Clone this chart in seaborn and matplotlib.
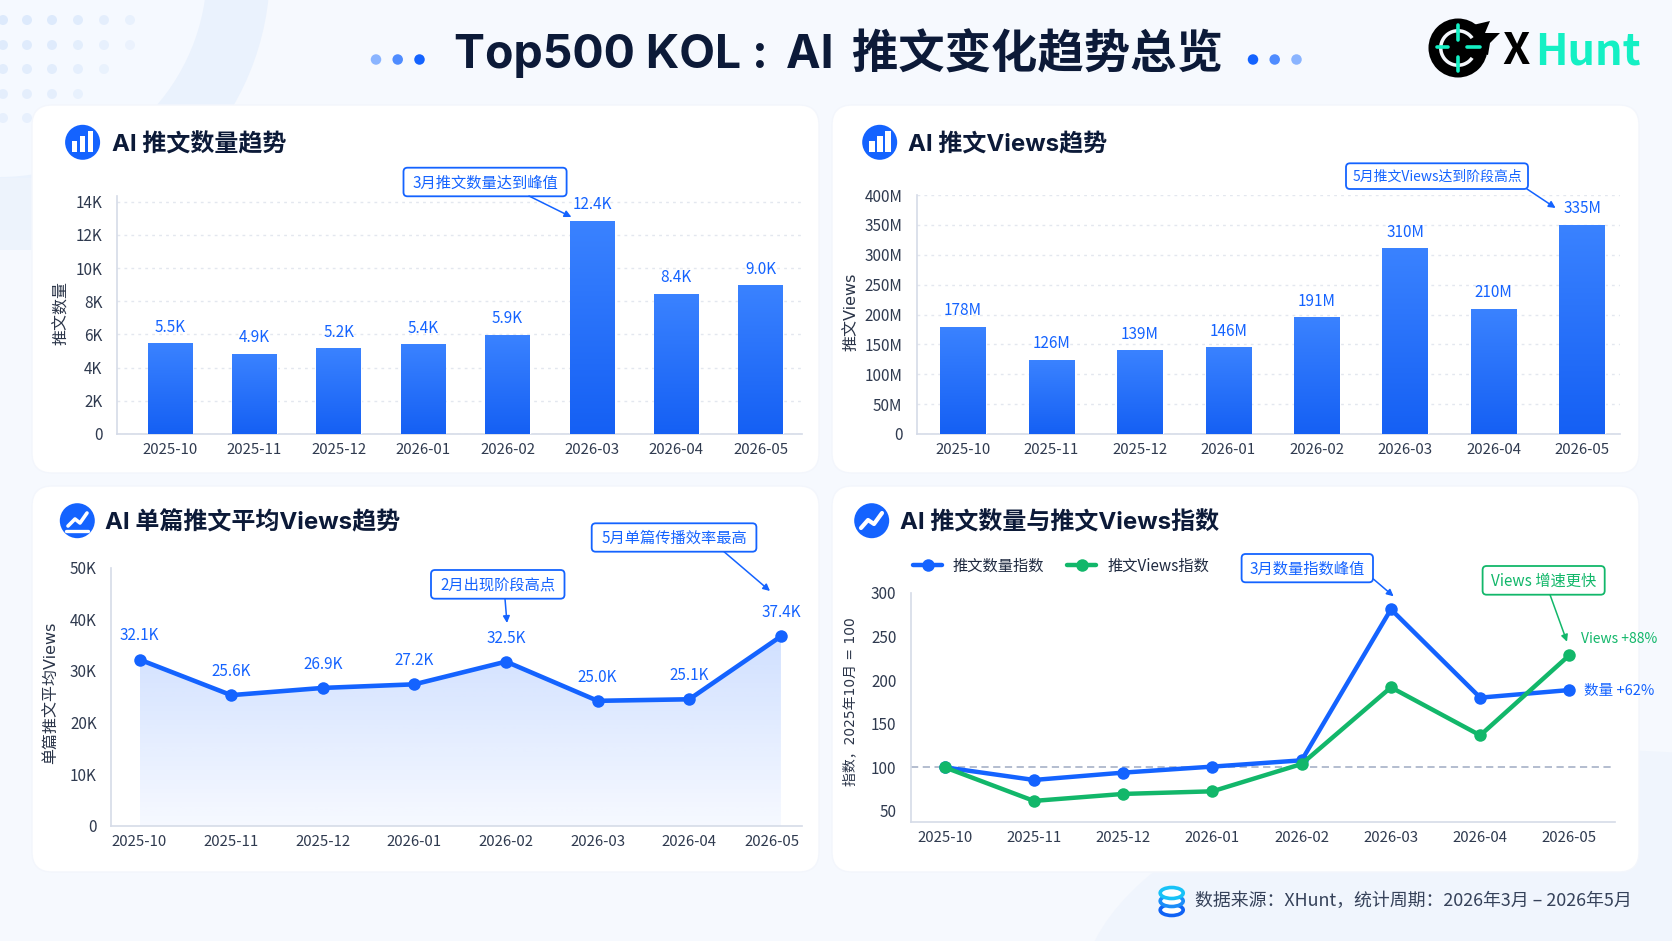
import numpy as np
import pandas as pd
import seaborn as sns
import matplotlib
matplotlib.use("Agg")
import matplotlib.pyplot as plt
from matplotlib.colors import LinearSegmentedColormap, to_rgb
from matplotlib.patches import Circle, Ellipse, FancyBboxPatch, Polygon, Rectangle, Wedge
from matplotlib.transforms import ScaledTranslation

months = ["2025-10", "2025-11", "2025-12", "2026-01", "2026-02", "2026-03", "2026-04", "2026-05"]

tweet_counts = [5440, 4820, 5140, 5380, 5960, 12800, 8400, 8920]
tweet_count_labels = ["5.5K", "4.9K", "5.2K", "5.4K", "5.9K", "12.4K", "8.4K", "9.0K"]
count_ticks = [0, 2000, 4000, 6000, 8000, 10000, 12000, 14000]
count_tick_labels = ["0", "2K", "4K", "6K", "8K", "10K", "12K", "14K"]

tweet_views = [178.8, 123.7, 139.3, 144.3, 194.4, 309.7, 208.9, 348.7]
tweet_view_labels = ["178M", "126M", "139M", "146M", "191M", "310M", "210M", "335M"]
view_ticks = [0, 50, 100, 150, 200, 250, 300, 350, 400]
view_tick_labels = ["0", "50M", "100M", "150M", "200M", "250M", "300M", "350M", "400M"]

avg_views = [32.2, 25.3, 26.7, 27.4, 31.8, 24.2, 24.5, 36.7]
avg_view_labels = ["32.1K", "25.6K", "26.9K", "27.2K", "32.5K", "25.0K", "25.1K", "37.4K"]
avg_ticks = [0, 10, 20, 30, 40, 50]
avg_tick_labels = ["0", "10K", "20K", "30K", "40K", "50K"]

count_index = [100, 85.5, 93.9, 100.8, 108, 281, 179.8, 188.5]
views_index = [100, 61.5, 69.5, 72.5, 103.8, 191.6, 136.6, 228.6]
index_ticks = [50, 100, 150, 200, 250, 300]

W, H = 1672, 941
BLUE = "#1463FF"
GREEN = "#12B76A"
DARK = "#0C1A38"
TICK_TEXT = "#2F3A4F"
AXIS = "#D5DBE8"
HEAD_FONT = ["Inter", "Noto Sans CJK SC", "DejaVu Sans"]
LABEL_FONT = ["DejaVu Sans", "Noto Sans CJK SC"]

sns.set_theme(style="white")
plt.rcParams["font.family"] = ["Noto Sans CJK SC", "DejaVu Sans"]
plt.rcParams["axes.unicode_minus"] = False

fig = plt.figure(figsize=(W / 100, H / 100), dpi=100, facecolor="#F6F9FE")


def pixel_axes(zorder):
    a = fig.add_axes([0, 0, 1, 1], zorder=zorder)
    a.set_xlim(0, W)
    a.set_ylim(H, 0)
    a.axis("off")
    return a


def chart_axes(left, right, top, bottom):
    a = fig.add_axes([left / W, 1 - bottom / H, (right - left) / W, (bottom - top) / H], zorder=2)
    a.patch.set_alpha(0)
    sns.despine(ax=a)
    a.spines["left"].set_color(AXIS)
    a.spines["bottom"].set_color(AXIS)
    a.spines["left"].set_linewidth(1.2)
    a.spines["bottom"].set_linewidth(1.2)
    a.tick_params(axis="x", length=3, width=1, color="#BFC7D6", pad=3.5, labelsize=10.8, labelcolor=TICK_TEXT)
    a.tick_params(axis="y", length=3.5, width=1, color="#9AA5B8", pad=7, labelsize=11, labelcolor=TICK_TEXT)
    return a


def set_ylabel_at(a, text, x_px, y_px, size=11.5):
    a.set_ylabel(text, fontsize=size, color="#2A3448", family=LABEL_FONT)
    a.yaxis.set_label_coords(x_px, y_px, transform=ov.transData)


def gradient_bars(a):
    cmap = LinearSegmentedColormap.from_list("bar", ["#1560F4", "#3A82FF"])
    xlim, ylim = a.get_xlim(), a.get_ylim()
    for p in a.patches:
        x0, w, h = p.get_x(), p.get_width(), p.get_height()
        a.imshow(np.linspace(1, 0, 64).reshape(-1, 1), extent=(x0, x0 + w, 0, h), aspect="auto",
                 cmap=cmap, zorder=3, interpolation="bilinear")
    a.set_xlim(xlim)
    a.set_ylim(ylim)


def value_labels(a, values, labels, offset, size=11):
    for i, (v, t) in enumerate(zip(values, labels)):
        a.annotate(t, (i, v), xytext=(0, offset), textcoords="offset points", ha="center", va="center",
                   fontsize=size, color=BLUE, zorder=6)


def callout(text, x0, x1, y0, y1, start, end, color=BLUE, size=11):
    ov.add_patch(FancyBboxPatch((x0 + 3, y0 + 3), x1 - x0 - 6, y1 - y0 - 6, boxstyle="round,pad=3,rounding_size=4",
                                fc="white", ec=color, lw=1.3))
    ov.text((x0 + x1) / 2, (y0 + y1) / 2 + 1, text, ha="center", va="center", fontsize=size, color=color)
    ov.annotate("", xy=end, xytext=start, arrowprops=dict(arrowstyle="-|>", color=color, lw=1.1, mutation_scale=10,
                                                          shrinkA=0, shrinkB=0))


def panel_title(text, cx, cy, tx):
    ov.add_patch(Circle((cx, cy), 17.5, fc=BLUE, ec="none"))
    ov.text(tx, cy + 2, text, ha="left", va="center", fontsize=17.3, fontweight="bold", color=DARK, family=HEAD_FONT)


def bar_icon(cx, cy):
    for dx, h in [(-8, 11), (0, 16), (8, 21)]:
        ov.add_patch(Rectangle((cx + dx - 2.8, cy + 10 - h), 5.6, h, fc="white", ec="none"))


bg = pixel_axes(0)
ov = pixel_axes(5)

# background shapes
bg.add_patch(Circle((0, -30), 270, fc="#EAF2FD", ec="none"))
bg.add_patch(Circle((0, -30), 207, fc="#F5F9FF", ec="none"))
bg.add_patch(Rectangle((0, 178), 60, 72, fc="#EDF3FC", ec="none"))
bg.add_patch(Ellipse((1600, 1000), 1040, 500, fc="#F0F5FD", ec="none"))
for row, (y, n) in enumerate(zip([20, 45, 69, 94, 118], [6, 6, 5, 4, 2])):
    for col, x in enumerate([3, 27, 52, 78, 104, 130][:n]):
        bg.add_patch(Circle((x, y), 5, fc="#D5E5FB", ec="none", alpha=0.75 - 0.12 * max(col - 2, 0) - 0.08 * row))

# cards
for x0, x1, y0, y1 in [(32, 819, 105, 473), (832, 1639, 105, 473), (32, 819, 486, 872), (832, 1639, 486, 872)]:
    bg.add_patch(FancyBboxPatch((x0 + 20, y0 + 20), x1 - x0 - 40, y1 - y0 - 40, boxstyle="round,pad=20,rounding_size=20",
                                fc="white", ec="#F3F6FC", lw=1))

# header
ov.text(454, 53, "Top500 KOL : \u2009AI \u2009推文变化趋势总览", ha="left", va="center", fontsize=33.4, fontweight="bold",
        color=DARK, family=HEAD_FONT)
for x, c in zip([376, 397.7, 419.5, 1253, 1274.7, 1296.5],
                ["#8AB4FF", "#4F8CFF", BLUE, BLUE, "#4F8CFF", "#8AB4FF"]):
    ov.add_patch(Ellipse((x, 59.5), 10.5, 10.5, fc=c, ec="none"))

# logo
LOGO_TEAL = "#14F0C4"
ov.add_patch(Polygon([(1473, 25), (1490, 21), (1485, 33), (1500, 33), (1490, 43), (1488, 55), (1470, 50)], fc="black", ec="none"))
ov.add_patch(Circle((1458, 48), 29.5, fc="black", ec="none"))
ov.add_patch(Wedge((1458, 48), 19, 35, 325, width=3.5, fc="#F4F7FC", ec="none"))
ov.plot([1458, 1458], [25, 40], color=LOGO_TEAL, lw=2.6, solid_capstyle="round")
ov.plot([1458, 1458], [57, 71], color=LOGO_TEAL, lw=2.6, solid_capstyle="round")
ov.plot([1437, 1448], [47, 47], color=LOGO_TEAL, lw=2.6, solid_capstyle="round")
ov.plot([1467, 1480], [47, 47], color=LOGO_TEAL, lw=2.6, solid_capstyle="round")
ov.text(1502, 51, "X", ha="left", va="center", fontsize=31.5, fontweight="bold", color="black")
ov.text(1535, 51, "Hunt", ha="left", va="center", fontsize=31, fontweight="bold", color=LOGO_TEAL)

# panel A: tweet counts
ax1 = chart_axes(117, 802, 196, 434)
sns.barplot(x=months, y=tweet_counts, width=0.53, color=BLUE, ax=ax1, zorder=3)
ax1.set_xlim(-0.628, 7.49)
ax1.set_ylim(0, 14343)
ax1.set_yticks(count_ticks, count_tick_labels)
ax1.grid(axis="y", color="#E3E7EF", lw=1, ls=(0, (2, 3)))
ax1.set_axisbelow(True)
gradient_bars(ax1)
value_labels(ax1, tweet_counts, tweet_count_labels, 12)
set_ylabel_at(ax1, "推文数量", 69, 313)
panel_title("AI 推文数量趋势", 82.6, 142.3, 112)
bar_icon(82.6, 142.3)
callout("3月推文数量达到峰值", 403.5, 566.6, 167.7, 196.3, (529, 196), (571.4, 217))

# panel B: tweet views
ax2 = chart_axes(917, 1620, 195, 434)
sns.barplot(x=months, y=tweet_views, width=0.513, color=BLUE, ax=ax2, zorder=3)
ax2.set_xlim(-0.52, 7.43)
ax2.set_ylim(0, 400)
ax2.set_yticks(view_ticks, view_tick_labels)
ax2.grid(axis="y", color="#E3E7EF", lw=1, ls=(0, (2, 3)))
ax2.set_axisbelow(True)
gradient_bars(ax2)
value_labels(ax2, tweet_views, tweet_view_labels, 12)
set_ylabel_at(ax2, "推文Views", 858, 312)
panel_title("AI 推文Views趋势", 879.7, 142.3, 908.5)
bar_icon(879.7, 142.3)
callout("5月推文Views达到阶段高点", 1346, 1528, 163.3, 189, (1527, 189), (1555.6, 208), size=10)

# panel C: average views per tweet
ax3 = chart_axes(111.4, 802, 567.7, 825.7)
sns.lineplot(x=months, y=avg_views, sort=False, color=BLUE, lw=3.3, marker="o", markersize=9,
             markeredgewidth=0, errorbar=None, ax=ax3, zorder=4)
ax3.set_xlim(-0.307, 7.23)
ax3.set_ylim(0, 50)
ax3.set_yticks(avg_ticks, avg_tick_labels)
xs = np.arange(len(months))
area = ax3.fill_between(xs, avg_views, 0, color="none")
fill_rgb = to_rgb(BLUE)
fill = np.zeros((64, 1, 4))
fill[..., :3] = fill_rgb
fill[:, 0, 3] = np.linspace(0.2, 0.04, 64)
img = ax3.imshow(fill, extent=(0, 7, 0, max(avg_views)), aspect="auto", zorder=2, interpolation="bilinear")
img.set_clip_path(area.get_paths()[0], transform=ax3.transData)
ax3.set_xlim(-0.307, 7.23)
ax3.set_ylim(0, 50)
value_labels(ax3, avg_views, avg_view_labels, 17)
last_label = ax3.get_xticklabels()[-1]
last_label.set_transform(last_label.get_transform() + ScaledTranslation(-6.5 / 72, 0, fig.dpi_scale_trans))
set_ylabel_at(ax3, "单篇推文平均Views", 59, 693)
panel_title("AI 单篇推文平均Views趋势", 77.3, 520.7, 105)
ov.plot([68, 75, 80, 87], [526, 519, 523, 513], color="white", lw=2.6)
ov.plot([66, 88], [531, 531], color="white", lw=2.4)
callout("2月出现阶段高点", 431, 564.5, 570, 598.7, (505, 598.7), (507, 623))
callout("5月单篇传播效率最高", 591.7, 756.4, 523.3, 551.7, (724, 551.7), (770, 591))

# panel D: index lines
index_df = pd.DataFrame({"month": months, "推文数量指数": count_index, "推文Views指数": views_index})
index_long = index_df.melt(id_vars="month", var_name="series", value_name="index")
ax4 = chart_axes(911, 1615, 592.7, 822.3)
ax4.axhline(100, color="#AEB7CB", lw=1.3, ls=(0, (4, 2.5)), zorder=1)
sns.lineplot(data=index_long, x="month", y="index", hue="series", sort=False,
             palette={"推文数量指数": BLUE, "推文Views指数": GREEN}, lw=3.2, marker="o", markersize=9,
             markeredgewidth=0, errorbar=None, ax=ax4, zorder=4)
ax4.set_xlim(-0.377, 7.51)
ax4.set_ylim(37, 300)
ax4.set_yticks(index_ticks, [str(t) for t in index_ticks])
ax4.set_xlabel("")
set_ylabel_at(ax4, "指数，2025年10月 = 100", 857, 701.7, size=10)
handles, labels = ax4.get_legend_handles_labels()
ax4.legend(handles, labels, loc="center left", bbox_to_anchor=(899.5, 566), bbox_transform=ov.transData, ncol=2,
           frameon=False, fontsize=11, handlelength=1.9, handletextpad=0.7, columnspacing=1.5, labelcolor="#1F2A40")
panel_title("AI 推文数量与推文Views指数", 871.7, 520.7, 900)
ov.plot([861, 868, 874, 882], [528, 520, 524, 513], color="white", lw=3)
callout("3月数量指数峰值", 1241.6, 1373, 554, 582.3, (1373, 578.7), (1393.6, 596.3))
callout("Views 增速更快", 1482.6, 1604.7, 566, 594.7, (1550, 594.7), (1567, 641.7), color=GREEN)
ov.text(1581, 639, "Views +88%", ha="left", va="center", fontsize=10, color=GREEN)
ov.text(1584, 690.7, "数量 +62%", ha="left", va="center", fontsize=10.5, color=BLUE)

for a in [ax1, ax2, ax3]:
    a.set_xlabel("")

# footer
for y, c in [(910, "#0F62F5"), (901, "#1C8DF8"), (893, "#18C2F7")]:
    ov.add_patch(Ellipse((1171.7, y), 23, 11, fc="white", ec=c, lw=2.6))
ov.text(1195, 901, "数据来源：XHunt，统计周期：2026年3月 – 2026年5月", ha="left", va="center", fontsize=12.9, color="#36425A")

fig.savefig("out.png", dpi=100)
